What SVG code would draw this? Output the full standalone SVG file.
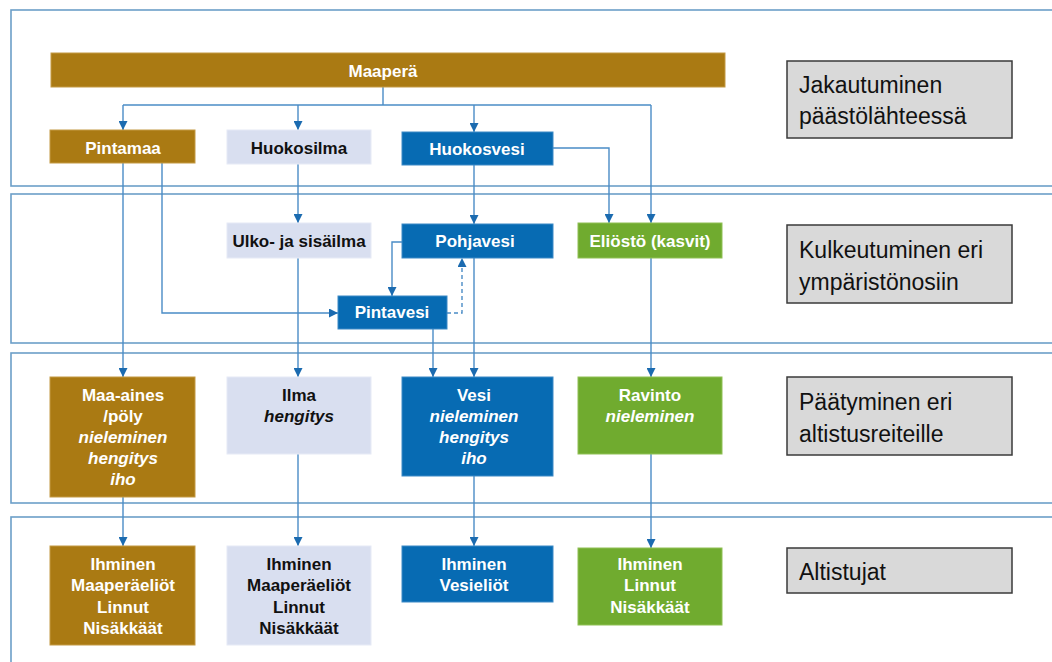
<svg xmlns="http://www.w3.org/2000/svg" width="1052" height="662" viewBox="0 0 1052 662">
<style>
.sec{fill:#fff;stroke:#6c9fc8;stroke-width:1.6}
.lbl{fill:#d9d9d9;stroke:#3a3a3a;stroke-width:1.5}
.lt{font-family:"Liberation Sans",Arial,sans-serif;font-size:23px;fill:#111}
.br{fill:#aa7a13;stroke:#c49a45;stroke-width:1}
.lv{fill:#d9dff0;stroke:#e6eaf6;stroke-width:1}
.bl{fill:#076bb3;stroke:#3d8ac6;stroke-width:1}
.gr{fill:#70ab2f;stroke:#8fc055;stroke-width:1}
.t{font-family:"Liberation Sans",Arial,sans-serif;font-size:17px;font-weight:bold;text-anchor:middle;fill:#fff}
.d{fill:#111}
.i{font-style:italic}
.c{fill:none;stroke:#4a8cc6;stroke-width:1.4}
.a{marker-end:url(#ar)}
.dash{stroke-dasharray:4 3}
</style>
<defs>
<marker id="ar" viewBox="0 0 10 10" refX="10" refY="5" markerWidth="9" markerHeight="9" markerUnits="userSpaceOnUse" orient="auto">
<path d="M0,0 L10,5 L0,10 z" fill="#1b6bb0"/>
</marker>
</defs>

<g id="sections">
<rect class="sec" x="11" y="10" width="1060" height="176"/>
<rect class="sec" x="11" y="194" width="1060" height="149"/>
<rect class="sec" x="11" y="353" width="1060" height="150"/>
<rect class="sec" x="11" y="517" width="1060" height="170"/>
</g>

<g id="connectors">
<path class="c" d="M383,87 V105"/>
<path class="c" d="M123,105 H651"/>
<path class="c a" d="M123,105 V130"/>
<path class="c a" d="M298,105 V130"/>
<path class="c a" d="M474,105 V132"/>
<path class="c a" d="M651,105 V223"/>
<path class="c a" d="M553,148 H609 V223"/>
<path class="c a" d="M123,163 V377"/>
<path class="c a" d="M162,163 V313 H338"/>
<path class="c a" d="M298,164 V223"/>
<path class="c a" d="M474,165 V224"/>
<path class="c a" d="M402,242 H392 V296"/>
<path class="c a dash" d="M447,313 H462 V258"/>
<path class="c a" d="M298,258 V377"/>
<path class="c a" d="M433,329 V377"/>
<path class="c a" d="M474,258 V377"/>
<path class="c a" d="M651,258 V377"/>
<path class="c a" d="M123,497 V546"/>
<path class="c a" d="M298,454 V546"/>
<path class="c a" d="M474,476 V546"/>
<path class="c a" d="M651,454 V548"/>
</g>

<g id="maapera"><rect class="br" x="51" y="53" width="674" height="34"/><text class="t" x="383" y="77">Maaperä</text></g>
<g id="pintamaa"><rect class="br" x="50" y="130" width="145" height="33"/><text class="t" x="123" y="154">Pintamaa</text></g>
<g id="huokosilma"><rect class="lv" x="227" y="130" width="144" height="34"/><text class="t d" x="299" y="154">Huokosilma</text></g>
<g id="huokosvesi"><rect class="bl" x="402" y="132" width="151" height="33"/><text class="t" x="477" y="155">Huokosvesi</text></g>

<g id="ulko"><rect class="lv" x="227" y="223" width="144" height="35"/><text class="t d" x="299" y="247">Ulko- ja sisäilma</text></g>
<g id="pohjavesi"><rect class="bl" x="402" y="224" width="151" height="34"/><text class="t" x="475" y="247">Pohjavesi</text></g>
<g id="eliosto"><rect class="gr" x="578" y="223" width="144" height="35"/><text class="t" x="650" y="247">Eliöstö (kasvit)</text></g>
<g id="pintavesi"><rect class="bl" x="338" y="296" width="109" height="33"/><text class="t" x="392" y="318">Pintavesi</text></g>

<g id="maa-aines"><rect class="br" x="50" y="377" width="145" height="120"/>
<text class="t" x="123" y="401">Maa-aines</text>
<text class="t" x="123" y="422">/pöly</text>
<text class="t i" x="123" y="443">nieleminen</text>
<text class="t i" x="123" y="464">hengitys</text>
<text class="t i" x="123" y="485">iho</text></g>
<g id="ilma"><rect class="lv" x="227" y="377" width="144" height="77"/>
<text class="t d" x="299" y="401">Ilma</text>
<text class="t d i" x="299" y="422">hengitys</text></g>
<g id="vesi"><rect class="bl" x="402" y="377" width="151" height="99"/>
<text class="t" x="474" y="401">Vesi</text>
<text class="t i" x="474" y="422">nieleminen</text>
<text class="t i" x="474" y="443">hengitys</text>
<text class="t i" x="474" y="464">iho</text></g>
<g id="ravinto"><rect class="gr" x="578" y="377" width="144" height="77"/>
<text class="t" x="650" y="401">Ravinto</text>
<text class="t i" x="650" y="422">nieleminen</text></g>

<g id="alt-brown"><rect class="br" x="50" y="546" width="145" height="99"/>
<text class="t" x="123" y="570">Ihminen</text>
<text class="t" x="123" y="591">Maaperäeliöt</text>
<text class="t" x="123" y="613">Linnut</text>
<text class="t" x="123" y="634">Nisäkkäät</text></g>
<g id="alt-air"><rect class="lv" x="227" y="546" width="144" height="99"/>
<text class="t d" x="299" y="570">Ihminen</text>
<text class="t d" x="299" y="591">Maaperäeliöt</text>
<text class="t d" x="299" y="613">Linnut</text>
<text class="t d" x="299" y="634">Nisäkkäät</text></g>
<g id="alt-water"><rect class="bl" x="402" y="546" width="151" height="56"/>
<text class="t" x="474" y="570">Ihminen</text>
<text class="t" x="474" y="591">Vesieliöt</text></g>
<g id="alt-green"><rect class="gr" x="578" y="548" width="144" height="77"/>
<text class="t" x="650" y="570">Ihminen</text>
<text class="t" x="650" y="591">Linnut</text>
<text class="t" x="650" y="613">Nisäkkäät</text></g>

<g id="label1"><rect class="lbl" x="787" y="61" width="225" height="77"/>
<text class="lt" x="799" y="93">Jakautuminen</text><text class="lt" x="799" y="124">päästölähteessä</text></g>
<g id="label2"><rect class="lbl" x="787" y="225" width="225" height="78"/>
<text class="lt" x="799" y="258">Kulkeutuminen eri</text><text class="lt" x="799" y="290">ympäristönosiin</text></g>
<g id="label3"><rect class="lbl" x="787" y="377" width="225" height="78"/>
<text class="lt" x="799" y="410">Päätyminen eri</text><text class="lt" x="799" y="442">altistusreiteille</text></g>
<g id="label4"><rect class="lbl" x="787" y="548" width="225" height="45"/>
<text class="lt" x="799" y="580">Altistujat</text></g>
</svg>
